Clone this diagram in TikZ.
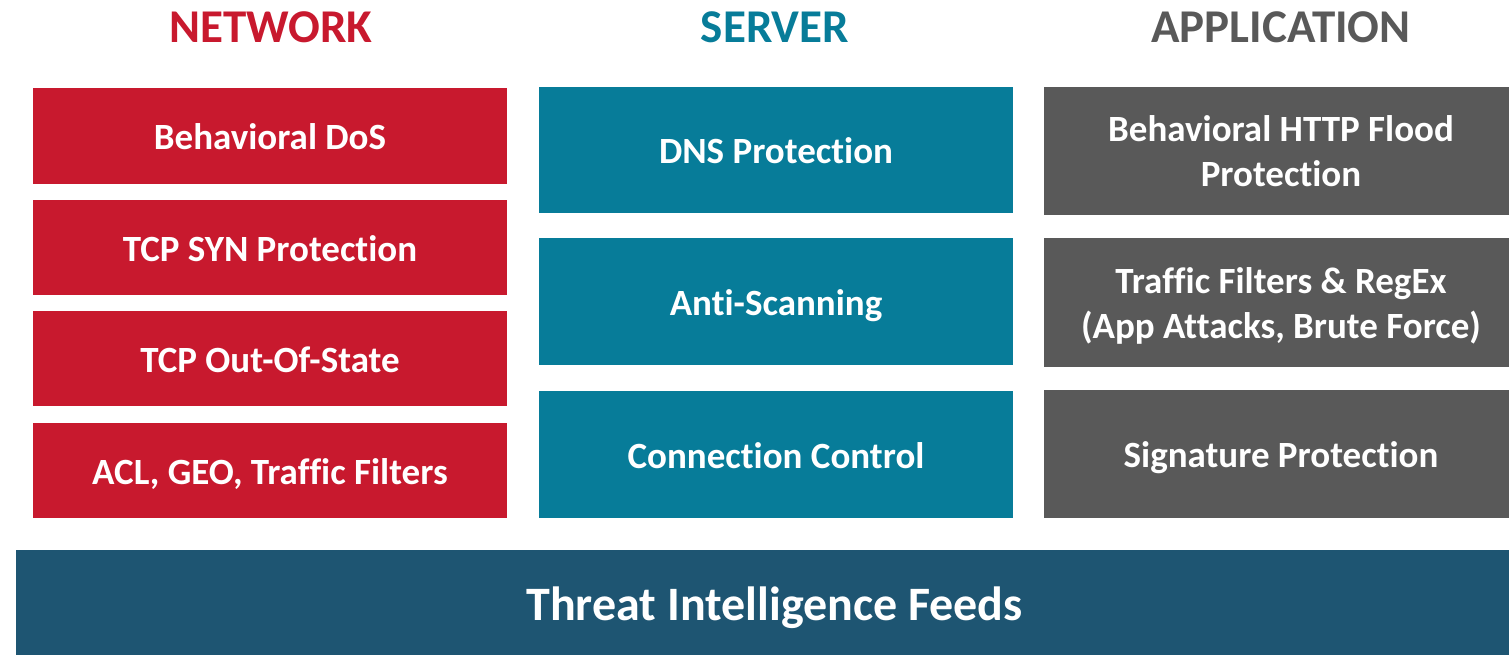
\documentclass[tikz,border=0pt]{standalone}
\usepackage{fontspec}
\setmainfont{Carlito}[Ligatures=NoCommon]
\definecolor{netred}{HTML}{C8192E}
\definecolor{srvteal}{HTML}{077C99}
\definecolor{appgray}{HTML}{595959}
\definecolor{barblue}{HTML}{1E5572}
\tikzset{
  box/.style={rectangle, inner sep=0pt, text=white, align=center,
    font=\bfseries\fontsize{37}{45}\selectfont},
  oneline/.style={text height=27pt, text depth=0pt},
  twoline/.style={text height=72pt, text depth=0pt},
  redbox/.style={box, oneline, fill=netred, minimum width=474pt},
  tealbox/.style={box, oneline, fill=srvteal, minimum width=474pt},
  graybox/.style={box, fill=appgray, minimum width=474pt},
  title/.style={font=\bfseries\fontsize{47}{50}\selectfont, inner sep=0pt}
}
\begin{document}
\begin{tikzpicture}[x=1pt,y=-1pt]
\useasboundingbox (0,0) rectangle (1509,655);
\clip (0,0) rectangle (1509,655);
% titles
\node[title, text=netred] (tn) at (271,27.5) {NETWORK};
\node[title, text=srvteal] (ts) at (775,27.5) {SERVER};
\node[title, text=appgray] (ta) at (1281,27.5) {APPLICATION};
% network
\node[redbox, minimum height=96pt] (n1) at (270,136) {Behavioral DoS};
\node[redbox, minimum height=95pt] (n2) at (270,247.5) {TCP SYN Protection};
\node[redbox, minimum height=95pt] (n3) at (270,358.5) {TCP Out-Of-State};
\node[redbox, minimum height=95pt] (n4) at (270,470.5) {ACL, GEO, Traffic Filters};
% server
\node[tealbox, minimum height=126pt] (s1) at (776,150) {DNS Protection};
\node[tealbox, minimum height=127pt] (s2) at (776,301.5) {Anti-Scanning};
\node[tealbox, minimum height=127pt] (s3) at (776,454.5) {Connection Control};
% application
\node[graybox, twoline, minimum height=128pt] (a1) at (1281,151) {Behavioral HTTP Flood\\Protection};
\node[graybox, twoline, minimum height=129pt] (a2) at (1281,302.5) {Traffic Filters \& RegEx\\(App Attacks, Brute Force)};
\node[graybox, oneline, minimum height=128pt] (a3) at (1281,454) {Signature Protection};
% bar
\node[box, fill=barblue, minimum width=1517pt, minimum height=106pt,
  text height=36pt, text depth=0pt,
  font=\bfseries\fontsize{48}{52}\selectfont] (bar) at (774.5,602.5) {Threat Intelligence Feeds};
\end{tikzpicture}
\end{document}
